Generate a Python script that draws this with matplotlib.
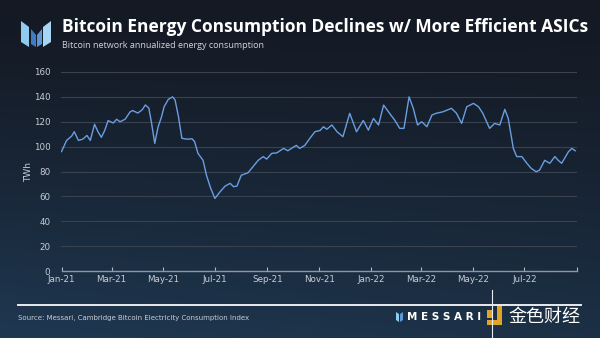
import numpy as np
import pandas as pd
import matplotlib
matplotlib.use("Agg")
import matplotlib.pyplot as plt
from matplotlib.patches import Polygon

# annualized network energy consumption (TWh)
dates = ["2021-01-01", "2021-01-07", "2021-01-13", "2021-01-16", "2021-01-21", "2021-01-26",
         "2021-01-31", "2021-02-04", "2021-02-09", "2021-02-13", "2021-02-17", "2021-02-21",
         "2021-02-25", "2021-03-03", "2021-03-07", "2021-03-11", "2021-03-17", "2021-03-23",
         "2021-03-26", "2021-04-01", "2021-04-06", "2021-04-10", "2021-04-14", "2021-04-17",
         "2021-04-21", "2021-04-25", "2021-04-29", "2021-05-02", "2021-05-07", "2021-05-12",
         "2021-05-15", "2021-05-19", "2021-05-23", "2021-05-29", "2021-06-04", "2021-06-07",
         "2021-06-11", "2021-06-17", "2021-06-21", "2021-06-26", "2021-07-01", "2021-07-07",
         "2021-07-13", "2021-07-19", "2021-07-23", "2021-07-27", "2021-08-01", "2021-08-09",
         "2021-08-15", "2021-08-21", "2021-08-27", "2021-08-31", "2021-09-06", "2021-09-12",
         "2021-09-20", "2021-09-25", "2021-10-01", "2021-10-05", "2021-10-09", "2021-10-15",
         "2021-10-21", "2021-10-27", "2021-11-02", "2021-11-06", "2021-11-10", "2021-11-16",
         "2021-11-22", "2021-11-29", "2021-12-07", "2021-12-15", "2021-12-23", "2021-12-29",
         "2022-01-04", "2022-01-10", "2022-01-16", "2022-01-23", "2022-01-29", "2022-02-04",
         "2022-02-09", "2022-02-15", "2022-02-20", "2022-02-25", "2022-03-02", "2022-03-08",
         "2022-03-14", "2022-03-19", "2022-03-27", "2022-04-06", "2022-04-12", "2022-04-18",
         "2022-04-24", "2022-05-02", "2022-05-08", "2022-05-13", "2022-05-21", "2022-05-27",
         "2022-06-02", "2022-06-08", "2022-06-12", "2022-06-18", "2022-06-22", "2022-06-28",
         "2022-07-04", "2022-07-09", "2022-07-15", "2022-07-19", "2022-07-25", "2022-07-31",
         "2022-08-06", "2022-08-10", "2022-08-14", "2022-08-22", "2022-08-26", "2022-08-30"]
twh = [96, 105, 108.5, 112, 105, 106,
       109, 105, 118, 112, 107.5, 113,
       121, 119, 122, 120, 122, 128,
       129, 127, 129.5, 133.5, 131, 120,
       102.6, 116, 124, 132, 138, 140,
       137.5, 124, 106.7, 106, 106.3, 104,
       94.6, 89, 77, 66.5, 58.4, 63.7,
       68.3, 70.5, 67.8, 68.3, 77, 79,
       84, 89, 92, 90, 94.6, 95,
       98.6, 96.7, 99.4, 101, 98.6, 101,
       106.7, 112, 113, 116, 114, 117.4,
       112, 108, 126.8, 112, 121, 113.3,
       122.7, 117.4, 133.4, 126.8, 121.4, 114.7,
       114.7, 140, 130.8, 117.4, 120, 116,
       125.4, 126.8, 128, 130.8, 126.8, 118.7,
       132, 134.8, 132, 126.8, 114.7, 118.7,
       117.4, 130, 122.7, 98.6, 92, 92,
       86.6, 82.6, 79.8, 81.2, 89, 86.6,
       92, 89, 86.6, 95.9, 98.6, 96.7]

tick_dates = ["2021-01-01", "2021-03-01", "2021-05-01", "2021-07-01", "2021-09-01",
              "2021-11-01", "2022-01-01", "2022-03-01", "2022-05-01", "2022-07-01"]
tick_labels = ["Jan-21", "Mar-21", "May-21", "Jul-21", "Sep-21",
               "Nov-21", "Jan-22", "Mar-22", "May-22", "Jul-22"]

df = pd.DataFrame({"date": pd.to_datetime(dates), "twh": twh})

W, H = 600, 338
fig = plt.figure(figsize=(W / 100, H / 100), dpi=100)

# background layer works in pixel units (y down) so the decorations are easy to place
bg = fig.add_axes([0, 0, 1, 1])
yy, xx = np.mgrid[0:1:200j, 0:1:300j]
top = np.array([0.08, 0.10, 0.14])
low = np.array([0.12, 0.22, 0.32])
w = (yy ** 1.3)[..., None] * (0.75 + 0.25 * (1 - xx))[..., None]
img = top * (1 - w) + low * w
bg.imshow(img, extent=[0, W, H, 0], aspect="auto")
bg.set_xlim(0, W)
bg.set_ylim(H, 0)
bg.axis("off")

# logo: four slanted blue bars forming an M
logo = [([(21, 21), (29, 27), (29, 47), (21, 42)], "#8fcaf0"),
        ([(31, 29), (36, 35), (36, 47), (31, 44)], "#3f7cc4"),
        ([(37, 35), (42, 29), (42, 44), (37, 47)], "#5b96d6"),
        ([(43, 27), (51, 21), (51, 42), (43, 47)], "#a6d6f4")]
for pts, c in logo:
    bg.add_patch(Polygon(pts, closed=True, color=c, lw=0))

bg.text(62, 27, "Bitcoin Energy Consumption Declines w/ More Efficient ASICs",
        color="white", fontsize=12.5, fontweight="bold", va="center", family="Open Sans")
bg.text(62, 45, "Bitcoin network annualized energy consumption",
        color="#d0d4da", fontsize=6.5, va="center", family="Open Sans")

ax = fig.add_axes([0.1025, 0.198, 0.859, 0.589])
ax.patch.set_alpha(0)
ax.plot(df["date"], df["twh"], color="#6a9ee0", lw=1.0)

ax.set_ylim(0, 160)
ax.set_yticks(range(0, 161, 20))
ax.set_xlim(pd.Timestamp("2021-01-01"), pd.Timestamp("2022-09-01"))
ax.set_xticks(pd.to_datetime(tick_dates + ["2022-09-01"]))
ax.set_xticklabels(tick_labels + [""])
ax.grid(axis="y", color="#3a4250", lw=0.8)
ax.set_axisbelow(True)
for s in ["top", "right", "left"]:
    ax.spines[s].set_visible(False)
ax.spines["bottom"].set_color("#8c96a4")
ax.spines["bottom"].set_linewidth(1.0)
ax.tick_params(axis="x", direction="in", length=3, color="#b0b8c4", colors="#c8ccd4",
               labelsize=6.3, pad=3)
ax.tick_params(axis="y", length=0, colors="#c8ccd4", labelsize=6.3, pad=8)
ax.set_ylabel("TWh", color="#c8ccd4", fontsize=6.5)
ax.yaxis.set_label_coords(-0.055, 0.5)

# footer rule, source note and brand marks
bg.plot([18, 581], [305, 305], color="#e8ecf0", lw=1.4)
bg.plot([492, 492], [290, 338], color="#e8ecf0", lw=0.8)
bg.text(18, 318, "Source: Messari, Cambridge Bitcoin Electricity Consumption Index",
        color="#c8ccd4", fontsize=5, va="center")
bg.add_patch(Polygon([(396, 312), (399, 314), (399, 322), (396, 320)], color="#8fcaf0", lw=0))
bg.add_patch(Polygon([(400, 314), (403, 312), (403, 320), (400, 322)], color="#5b96d6", lw=0))
bg.text(407, 317, "M E S S A R I", color="white", fontsize=7.5,
        fontweight="bold", va="center")
bg.add_patch(Polygon([(497, 305), (502, 305), (502, 325), (487, 325), (487, 320), (497, 320)],
                     color="#e0a526", lw=0))
bg.add_patch(Polygon([(487, 310), (492, 310), (492, 318), (487, 318)], color="#e0a526", lw=0))
bg.text(508, 317, "金色财经", color="white", fontsize=13, va="center",
        family=["Noto Sans CJK SC", "DejaVu Sans"])

fig.savefig("out.png", dpi=100)
